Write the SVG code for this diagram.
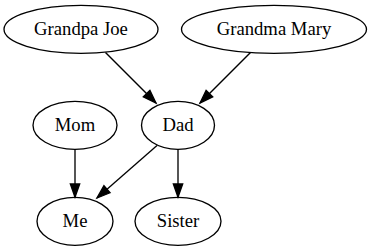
<svg xmlns="http://www.w3.org/2000/svg" width="371" height="251" viewBox="0 0 371 251">
  <style>
    .node ellipse { fill: none; stroke: #000; stroke-width: 1.33; }
    .node text { font-family: "Liberation Serif", "Times New Roman", serif; font-size: 18.67px; text-anchor: middle; fill: #000; }
    .edge { fill: none; stroke: #000; stroke-width: 1.33; marker-end: url(#arrow); }
  </style>
  <defs>
    <marker id="arrow" markerUnits="userSpaceOnUse" markerWidth="16" markerHeight="12" refX="13.3" refY="4.67" orient="auto" overflow="visible">
      <path d="M0,0 L13.3,4.67 L0,9.33 Z" fill="#000" stroke="#000" stroke-width="1.33"/>
    </marker>
  </defs>
  <rect width="371" height="251" fill="#fff"/>

  <g id="connectors">
    <line class="edge" x1="105.5" y1="52.5" x2="156" y2="103"/>
    <line class="edge" x1="250.5" y1="52.5" x2="200" y2="103"/>
    <line class="edge" x1="75" y1="149.3" x2="75" y2="197.3"/>
    <line class="edge" x1="157" y1="145.5" x2="97" y2="198"/>
    <line class="edge" x1="178" y1="149.3" x2="178" y2="197.3"/>
  </g>

  <g id="grandpa-joe" class="node">
    <ellipse cx="81" cy="29.3" rx="77" ry="24"/>
    <text x="81" y="35">Grandpa Joe</text>
  </g>
  <g id="grandma-mary" class="node">
    <ellipse cx="274" cy="29.3" rx="92.5" ry="24"/>
    <text x="274" y="35">Grandma Mary</text>
  </g>
  <g id="mom" class="node">
    <ellipse cx="75" cy="125.3" rx="42" ry="24"/>
    <text x="75" y="131">Mom</text>
  </g>
  <g id="dad" class="node">
    <ellipse cx="178" cy="125.3" rx="36.5" ry="24"/>
    <text x="178" y="131">Dad</text>
  </g>
  <g id="me" class="node">
    <ellipse cx="75" cy="221.3" rx="38" ry="24"/>
    <text x="75" y="227">Me</text>
  </g>
  <g id="sister" class="node">
    <ellipse cx="178" cy="221.3" rx="43" ry="24"/>
    <text x="178" y="227">Sister</text>
  </g>
</svg>
